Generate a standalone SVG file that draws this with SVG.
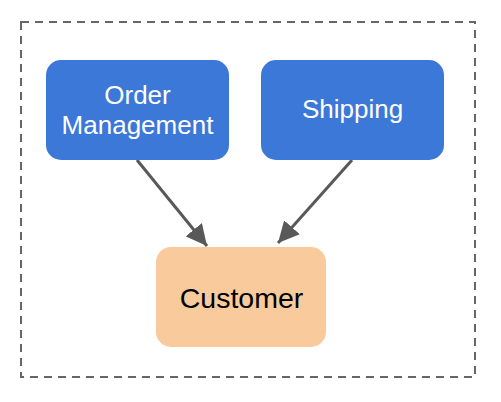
<svg xmlns="http://www.w3.org/2000/svg" width="501" height="402" viewBox="0 0 501 402">
<style>
.box{fill:#3C78D8}
.cust{fill:#F9CB9C}
.t{font-family:"Liberation Sans",Arial,sans-serif;text-anchor:middle}
.w{fill:#ffffff;font-size:26px}
.k{fill:#000000;font-size:28.5px}
.edge{stroke:#595959;stroke-width:3;fill:none}
</style>
<defs>
<marker id="arr" viewBox="0 0 10 10" refX="10" refY="5" markerWidth="7" markerHeight="7" markerUnits="strokeWidth" orient="auto">
<path d="M0,0 L10,5 L0,10 z" fill="#595959"/>
</marker>
</defs>
<rect x="21" y="22" width="454" height="355" fill="none" stroke="#666666" stroke-width="2" stroke-dasharray="8,6"/>
<g id="connectors">
<line class="edge" x1="137" y1="160" x2="207" y2="246" marker-end="url(#arr)"/>
<line class="edge" x1="352" y1="160" x2="278" y2="243" marker-end="url(#arr)"/>
</g>
<g id="order">
<rect class="box" x="46" y="60" width="183" height="100" rx="15"/>
<text class="t w" x="137.5" y="104">Order</text>
<text class="t w" x="137.5" y="133.5">Management</text>
</g>
<g id="shipping">
<rect class="box" x="261" y="60" width="183" height="100" rx="15"/>
<text class="t w" x="352.5" y="118">Shipping</text>
</g>
<g id="customer">
<rect class="cust" x="156" y="247" width="170" height="100" rx="15"/>
<text class="t k" x="241.5" y="307.5">Customer</text>
</g>
</svg>
